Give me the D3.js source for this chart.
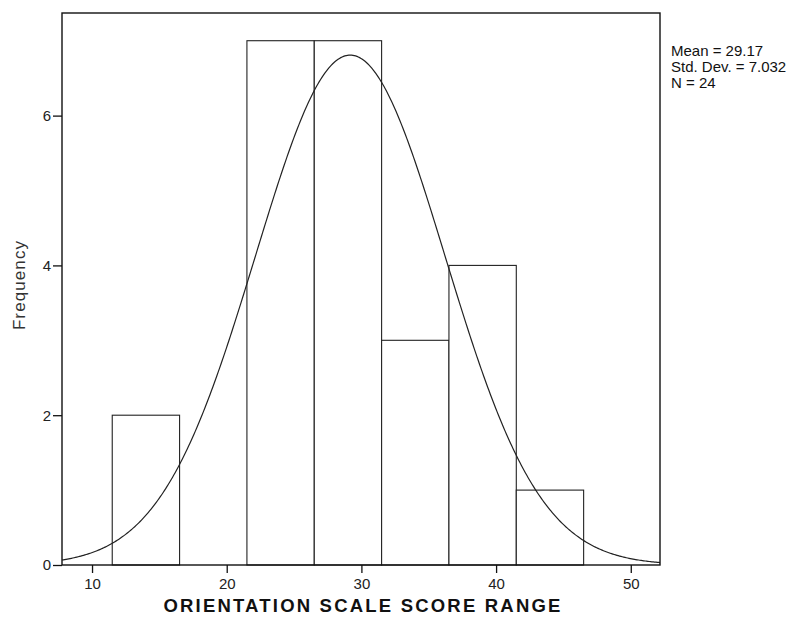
<!DOCTYPE html>
<html>
<head>
<meta charset="utf-8">
<script src="https://cdn.jsdelivr.net/npm/d3@7.9.0/dist/d3.min.js"></script>
<style>
  body { margin: 0; background: #fff; }
  svg { display: block; font-family: "Liberation Sans", Arial, sans-serif; }
</style>
</head>
<body>
<div id="chart"></div>
<script>
// histogram bins (lower edges), all bins 5 wide
const binStarts = [11.5, 16.5, 21.5, 26.5, 31.5, 36.5, 41.5];
const binWidth = 5;
const counts = [2, 0, 7, 7, 3, 4, 1];

// summary shown at the right, also used for the fitted normal curve
const mean = 29.17;
const stdDev = 7.032;
const total = 24;

const xTicks = [10, 20, 30, 40, 50];
const yTicks = [0, 2, 4, 6];
const xDomain = [7.77, 52.17];
const yDomain = [0, 7.37];

const width = 793;
const height = 626;
const plot = { left: 62, right: 660, top: 13, bottom: 565 };

const svg = d3.select('#chart')
    .append('svg')
    .attr('width', width)
    .attr('height', height);

const xScale = d3.scaleLinear().domain(xDomain).range([plot.left, plot.right]);
const yScale = d3.scaleLinear().domain(yDomain).range([plot.bottom, plot.top]);

const bins = binStarts.map((x0, i) => ({ x0: x0, x1: x0 + binWidth, count: counts[i] }));

/* bars */
svg.append('g')
    .selectAll('rect')
    .data(bins.filter(d => d.count > 0))
    .join('rect')
    .attr('x', d => xScale(d.x0))
    .attr('y', d => yScale(d.count))
    .attr('width', d => xScale(d.x1) - xScale(d.x0))
    .attr('height', d => yScale(0) - yScale(d.count))
    .attr('fill', '#fff')
    .attr('stroke', '#222')
    .attr('stroke-width', 1.1);

/* normal curve from mean / sd / N */
const curvePts = d3.range(xDomain[0], xDomain[1] + 0.01, 0.1).map(x => {
    const z = (x - mean) / stdDev;
    return [x, total * binWidth * Math.exp(-0.5 * z * z) / (stdDev * Math.sqrt(2 * Math.PI))];
});
svg.append('path')
    .datum(curvePts)
    .attr('fill', 'none')
    .attr('stroke', '#222')
    .attr('stroke-width', 1.2)
    .attr('d', d3.line().x(d => xScale(d[0])).y(d => yScale(d[1])));

/* frame */
svg.append('rect')
    .attr('x', plot.left)
    .attr('y', plot.top)
    .attr('width', plot.right - plot.left)
    .attr('height', plot.bottom - plot.top)
    .attr('fill', 'none')
    .attr('stroke', '#111')
    .attr('stroke-width', 1.4);

/* axes */
const xAxis = svg.append('g')
    .attr('transform', `translate(0,${plot.bottom})`)
    .call(d3.axisBottom(xScale).tickValues(xTicks).tickSize(8).tickPadding(5).tickSizeOuter(0));
const yAxis = svg.append('g')
    .attr('transform', `translate(${plot.left},0)`)
    .call(d3.axisLeft(yScale).tickValues(yTicks).tickSize(9).tickPadding(2).tickSizeOuter(0));
[xAxis, yAxis].forEach(a => {
    a.select('.domain').remove();
    a.selectAll('line').attr('stroke', '#111').attr('stroke-width', 1.3);
    a.selectAll('text')
        .attr('fill', '#222')
        .style('font-size', '15px')
        .style('font-family', '"Liberation Sans", Arial, sans-serif');
});

/* axis titles */
svg.append('text')
    .attr('x', (plot.left + plot.right) / 2 + 2)
    .attr('y', 612)
    .attr('text-anchor', 'middle')
    .style('font-size', '18.5px')
    .style('font-weight', 'bold')
    .style('letter-spacing', '2.2px')
    .attr('fill', '#111')
    .text('ORIENTATION SCALE SCORE RANGE');

svg.append('text')
    .attr('transform', 'rotate(-90)')
    .attr('x', -285)
    .attr('y', 25)
    .attr('text-anchor', 'middle')
    .style('font-size', '17px')
    .style('letter-spacing', '1.1px')
    .attr('fill', '#333')
    .text('Frequency');

/* stats box */
const stats = [`Mean = ${mean.toFixed(2)}`, `Std. Dev. = ${stdDev.toFixed(3)}`, `N = ${total}`];
svg.append('g')
    .selectAll('text')
    .data(stats)
    .join('text')
    .attr('x', 671)
    .attr('y', (d, i) => 56 + i * 16)
    .style('font-size', '15px')
    .attr('fill', '#111')
    .text(d => d);
</script>
</body>
</html>
